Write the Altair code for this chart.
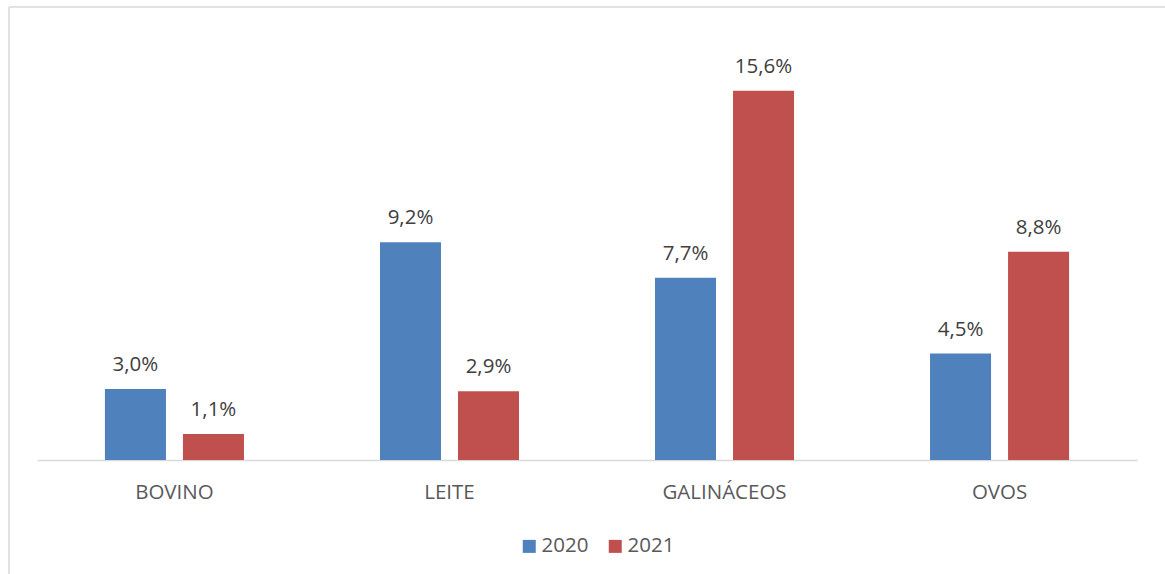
import altair as alt
import pandas as pd

categories = ["BOVINO", "LEITE", "GALINÁCEOS", "OVOS"]
years = ["2020", "2021"]
values_2020 = [3.0, 9.2, 7.7, 4.5]
values_2021 = [1.1, 2.9, 15.6, 8.8]
colors = ["#4F81BD", "#C0504D"]

rows = []
for c, a, b in zip(categories, values_2020, values_2021):
    rows.append({"cat": c, "year": "2020", "val": a})
    rows.append({"cat": c, "year": "2021", "val": b})
df = pd.DataFrame(rows)
df["label"] = df["val"].map(lambda v: f"{v:.1f}".replace(".", ",") + "%")

FONT = "Open Sans"
FS = 20.5

x = alt.X("cat:N", sort=categories, title=None,
          scale=alt.Scale(paddingInner=0.4945, paddingOuter=0.247),
          axis=alt.Axis(labelAngle=0, ticks=False, domainColor="#d9d9d9", domainWidth=1.5,
                        labelColor="#595959", labelFontSize=FS, labelFont=FONT, labelPadding=22,
                        grid=False))
xo = alt.XOffset("year:N", sort=years, scale=alt.Scale(paddingInner=0.218, paddingOuter=0))
y = alt.Y("val:Q", scale=alt.Scale(domain=[0, 18]), axis=None)

bars = alt.Chart(df).mark_bar().encode(
    x=x, xOffset=xo, y=y,
    color=alt.Color("year:N", sort=years, scale=alt.Scale(domain=years, range=colors),
                    legend=alt.Legend(title=None, orient="none", legendX=482, legendY=502,
                                      direction="horizontal", symbolType="square", symbolSize=169,
                                      symbolStrokeWidth=0, labelFontSize=FS, labelFont=FONT,
                                      labelColor="#595959", columnPadding=16, labelOffset=2)),
)

labels = alt.Chart(df).mark_text(dy=-24, fontSize=FS, font=FONT, color="#404040", baseline="middle").encode(
    x=x, xOffset=xo, y=y, text="label:N"
)

frame_left = alt.Chart(pd.DataFrame({"k": [0]})).mark_rule(color="#d9d9d9", strokeWidth=1.5).encode(
    x=alt.value(-28), y=alt.value(-27), y2=alt.value(545)
)
frame_top = alt.Chart(pd.DataFrame({"k": [0]})).mark_rule(color="#d9d9d9", strokeWidth=1.5).encode(
    x=alt.value(-28), x2=alt.value(1135), y=alt.value(-27)
)

chart = alt.layer(frame_left, frame_top, bars, labels).properties(
    width=1100, height=426,
    autosize=alt.AutoSizeParams(type="none"),
    padding={"left": 37, "top": 34, "right": 28, "bottom": 114},
    background="white",
).configure_view(stroke=None)

chart.save("out.html", embed_options={"renderer": "svg", "actions": False})
